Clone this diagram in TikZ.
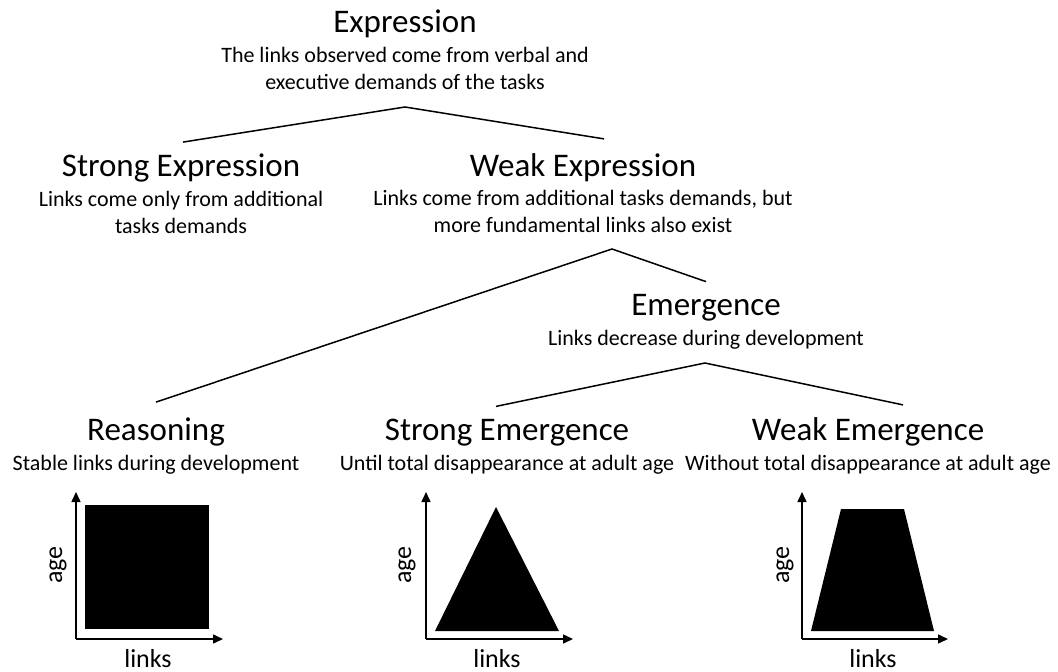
\documentclass[tikz,border=0pt]{standalone}
\usepackage{fontspec}
\setmainfont{Carlito}
\usetikzlibrary{positioning,arrows.meta}

\tikzset{
  head/.style={font=\fontsize{33}{36}\selectfont, inner sep=0pt, anchor=base},
  desc/.style={font=\fontsize{22}{27}\selectfont, align=center, inner sep=0pt},
  branch/.style={line width=1.5pt},
  axis/.style={line width=1.5pt, -{Triangle[length=10pt,width=9pt]}},
  axlabel/.style={font=\fontsize{26}{30}\selectfont, inner sep=0pt},
  area/.style={fill=black},
}

\begin{document}
\begin{tikzpicture}[x=1pt,y=-1pt]
  \useasboundingbox (0,0) rectangle (1058,672);

  % tree of hypotheses
  \node (expr) [head] at (405,32) {Expression};
  \node (exprtxt) [desc,below=10pt of expr] {The links observed come from verbal and\\executive demands of the tasks};

  \node (strexp) [head] at (181,176) {Strong Expression};
  \node (strexptxt) [desc,below=9pt of strexp] {Links come only from additional\\tasks demands};

  \node (weakexp) [head] at (583,176) {Weak Expression};
  \node (weakexptxt) [desc,below=9pt of weakexp] {Links come from additional tasks demands, but\\more fundamental links also exist};

  \node (emerg) [head] at (706,315) {Emergence};
  \node (emergtxt) [desc,below=9pt of emerg] {Links decrease during development};

  \node (reason) [head] at (156,440) {Reasoning};
  \node (reasontxt) [desc,below=9pt of reason] {Stable links during development};

  \node (stremerg) [head] at (507,440) {Strong Emergence};
  \node (stremergtxt) [desc,below=9pt of stremerg] {Until total disappearance at adult age};

  \node (weakemerg) [head] at (868,440) {Weak Emergence};
  \node (weakemergtxt) [desc,below=9pt of weakemerg] {Without total disappearance at adult age};

  % forks
  \coordinate (fork1) at (405,107);
  \coordinate (fork2) at (612,249);
  \coordinate (fork3) at (705,363);
  \draw[branch] ([shift={(2,-11)}]strexp.north) -- (fork1) -- ([shift={(21,-14)}]weakexp.north);
  \draw[branch] ([shift={(0,-15)}]reason.north) -- (fork2) -- ([shift={(0,-12)}]emerg.north);
  \draw[branch] ([shift={(-11,-12)}]stremerg.north) -- (fork3) -- ([shift={(35,-12)}]weakemerg.north);

  % plots
  \coordinate (o1) at (76,639);
  \coordinate (o2) at (426,639);
  \coordinate (o3) at (802,639);

  \fill[area] (85,505) rectangle (209,629);
  \draw[axis] (o1) -- (76,492);
  \draw[axis] (o1) -- (223,639);
  \node (age1) [axlabel,rotate=90] at (58,565) {age};
  \node (links1) [axlabel,anchor=base] at (148,667) {links};

  \fill[area] (435,631) -- (496,507) -- (559,631) -- cycle;
  \draw[axis] (o2) -- (426,492);
  \draw[axis] (o2) -- (573,639);
  \node (age2) [axlabel,rotate=90] at (407,565) {age};
  \node (links2) [axlabel,anchor=base] at (497,667) {links};

  \fill[area] (811,631) -- (841,509) -- (904,509) -- (934,631) -- cycle;
  \draw[axis] (o3) -- (802,492);
  \draw[axis] (o3) -- (948,639);
  \node (age3) [axlabel,rotate=90] at (785,565) {age};
  \node (links3) [axlabel,anchor=base] at (873,667) {links};
\end{tikzpicture}
\end{document}
